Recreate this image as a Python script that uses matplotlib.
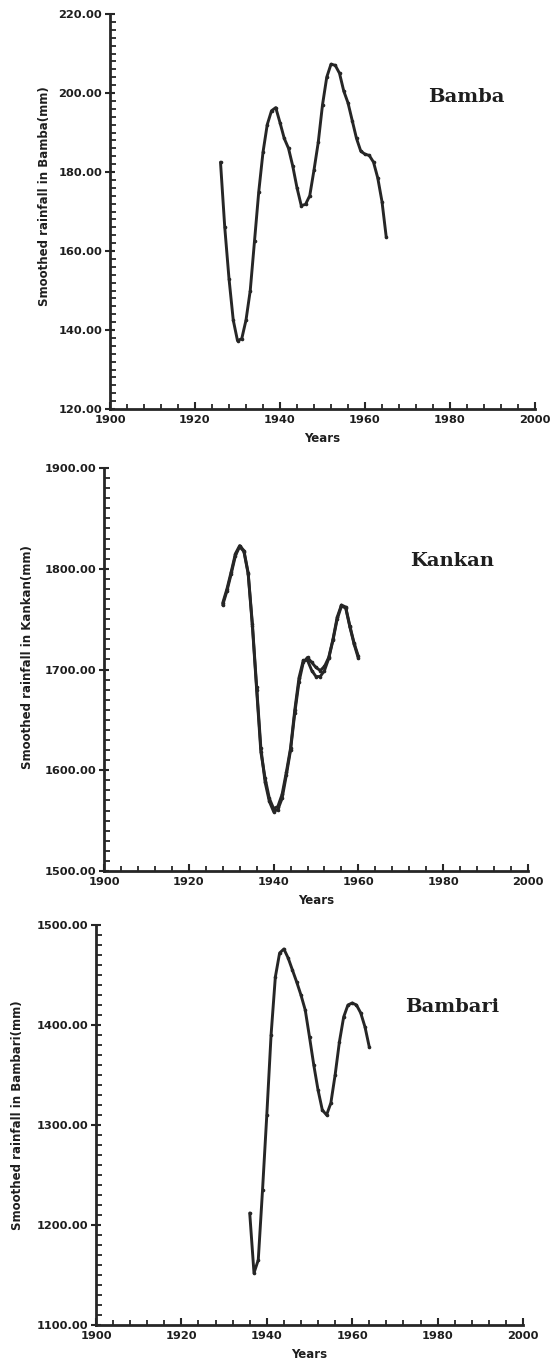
import matplotlib
matplotlib.use("Agg")
import matplotlib.pyplot as plt
from matplotlib.ticker import MultipleLocator, FormatStrFormatter

# ---------------- data ----------------
bamba_years = list(range(1926, 1966))
bamba_vals = [182.5, 166.0, 153.0, 142.5, 137.3, 137.8, 142.5, 150.0, 162.5, 175.0,
              185.0, 192.0, 195.5, 196.3, 192.5, 188.5, 186.0, 181.5, 176.0, 171.5,
              171.8, 174.0, 180.5, 187.5, 197.0, 204.0, 207.3, 207.0, 205.0, 200.5,
              197.5, 193.0, 188.5, 185.3, 184.5, 184.2, 182.5, 178.5, 172.5, 163.5]

kankan_years = list(range(1928, 1961))
kankan_vals_a = [1766, 1780, 1797, 1815, 1823, 1818, 1796, 1745, 1683, 1622,
                 1588, 1569, 1559, 1561, 1572, 1595, 1620, 1657, 1688, 1707,
                 1712, 1707, 1702, 1699, 1703, 1712, 1730, 1752, 1764, 1762,
                 1743, 1726, 1713]
kankan_vals_b = [1764, 1778, 1795, 1813, 1822, 1817, 1795, 1743, 1680, 1618,
                 1592, 1572, 1562, 1564, 1576, 1598, 1622, 1660, 1692, 1709,
                 1709, 1699, 1693, 1693, 1699, 1711, 1729, 1750, 1763, 1761,
                 1742, 1725, 1711]

bambari_years = list(range(1936, 1965))
bambari_vals = [1212, 1152, 1165, 1235, 1310, 1390, 1448, 1472, 1476, 1467,
                1455, 1443, 1430, 1415, 1388, 1360, 1335, 1315, 1310, 1322,
                1350, 1383, 1408, 1420, 1422, 1420, 1412, 1398, 1378]

station_names = ["Bamba", "Kankan", "Bambari"]
ylabels = ["Smoothed rainfall in Bamba(mm)",
           "Smoothed rainfall in Kankan(mm)",
           "Smoothed rainfall in Bambari(mm)"]

# ---------------- layout ----------------
W, H = 552, 1361
fig = plt.figure(figsize=(W / 100, H / 100), dpi=100)

def px_axes(left, right, top, bottom):
    return fig.add_axes([left / W, 1 - bottom / H, (right - left) / W, (bottom - top) / H])

panels = [
    dict(box=(110, 535, 14, 409), ylim=(120, 220), ymaj=20, ymin=2,
         series=[(bamba_years, bamba_vals)], label_pos=(1983.8, 199),
         ylab=(-0.139, 0.538)),
    dict(box=(104, 528, 468, 871), ylim=(1500, 1900), ymaj=100, ymin=10,
         series=[(kankan_years, kankan_vals_a), (kankan_years, kankan_vals_b)],
         label_pos=(1982.2, 1808), ylab=(-0.166, 0.53)),
    dict(box=(96, 523, 925, 1325), ylim=(1100, 1500), ymaj=100, ymin=10,
         series=[(bambari_years, bambari_vals)], label_pos=(1983.4, 1418),
         ylab=(-0.169, 0.525)),
]

line_color = "#262626"
text_color = "#1e1e1e"

for i, p in enumerate(panels):
    ax = px_axes(*p["box"])
    for xs, ys in p["series"]:
        ax.plot(xs, ys, color=line_color, lw=2.1, marker="o", ms=1.6,
                solid_capstyle="round", solid_joinstyle="round")
    ax.set_xlim(1900, 2000)
    ax.set_ylim(*p["ylim"])
    for s in ("top", "right"):
        ax.spines[s].set_visible(False)
    for s in ("left", "bottom"):
        ax.spines[s].set_linewidth(2.0)
        ax.spines[s].set_color(line_color)
    ax.xaxis.set_major_locator(MultipleLocator(20))
    ax.xaxis.set_minor_locator(MultipleLocator(4))
    ax.yaxis.set_major_locator(MultipleLocator(p["ymaj"]))
    ax.yaxis.set_minor_locator(MultipleLocator(p["ymin"]))
    ax.yaxis.set_major_formatter(FormatStrFormatter("%.2f"))
    ax.tick_params(axis="y", which="major", direction="inout", length=7, width=1.5,
                   color=line_color, pad=2)
    ax.tick_params(axis="y", which="minor", direction="in", length=4.5, width=1.3,
                   color=line_color)
    ax.tick_params(axis="x", which="major", direction="in", length=5, width=1.5,
                   color=line_color, pad=4)
    ax.tick_params(axis="x", which="minor", direction="in", length=3.5, width=1.3,
                   color=line_color)
    for lab in ax.get_xticklabels() + ax.get_yticklabels():
        lab.set_fontfamily("DejaVu Sans")
        lab.set_fontweight("bold")
        lab.set_fontsize(8.2)
        lab.set_color(text_color)
    ax.set_xlabel("Years", fontsize=8.5, fontweight="bold", color=text_color, labelpad=5)
    ax.set_ylabel(ylabels[i], fontsize=8.5, fontweight="bold", color=text_color)
    ax.yaxis.set_label_coords(*p["ylab"])
    ax.text(p["label_pos"][0], p["label_pos"][1], station_names[i],
            fontfamily="DejaVu Serif", fontweight="bold", fontsize=14,
            ha="center", va="center", color=text_color)

fig.savefig("out.png", dpi=100)
